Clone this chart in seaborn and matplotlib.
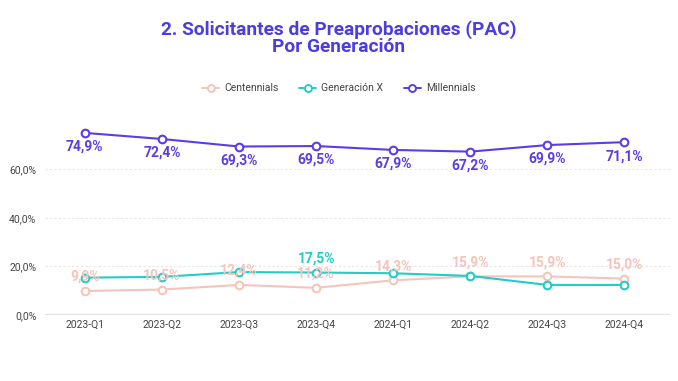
import pandas as pd
import seaborn as sns
import matplotlib.pyplot as plt
from matplotlib.lines import Line2D

# data
quarters = ['2023-Q1', '2023-Q2', '2023-Q3', '2023-Q4', '2024-Q1', '2024-Q2', '2024-Q3', '2024-Q4']
centennials = [9.9, 10.5, 12.4, 11.2, 14.3, 15.9, 15.9, 15.0]
generacion_x = [15.4, 15.7, 17.7, 17.5, 17.2, 16.1, 12.4, 12.4]
millennials = [74.9, 72.4, 69.3, 69.5, 67.9, 67.2, 69.9, 71.1]

series = ['Centennials', 'Generación X', 'Millennials']
colors = {'Centennials': '#f5c4ba', 'Generación X': '#22cdc6', 'Millennials': '#5a3de6'}

df = pd.DataFrame({'Trimestre': quarters, 'Centennials': centennials,
                   'Generación X': generacion_x, 'Millennials': millennials})
df_long = df.melt(id_vars='Trimestre', var_name='Serie', value_name='Valor')

sns.set_style('white')
plt.rcParams['font.family'] = ['Roboto', 'DejaVu Sans']

fig = plt.figure(figsize=(6.78, 3.81), dpi=100)
ax = fig.add_axes([0.066, 0.173, 0.922, 0.565])

for s in series:
    sub = df_long[df_long['Serie'] == s]
    sns.lineplot(data=sub, x='Trimestre', y='Valor', ax=ax, color=colors[s],
                 linewidth=1.5, marker='o', markersize=5.5, markerfacecolor='white',
                 markeredgecolor=colors[s], markeredgewidth=1.5, sort=False, legend=False)

# value labels
def fmt(v):
    return f'{v:.1f}%'.replace('.', ',')

for i, v in enumerate(centennials):
    ax.annotate(fmt(v), (i, v), xytext=(0, 5), textcoords='offset points',
                ha='center', va='bottom', fontsize=10, fontweight='bold', color=colors['Centennials'])
ax.annotate(fmt(generacion_x[3]), (3, generacion_x[3]), xytext=(0, 5),
            textcoords='offset points', ha='center', va='bottom', fontsize=10,
            fontweight='bold', color=colors['Generación X'])
for i, v in enumerate(millennials):
    ax.annotate(fmt(v), (i, v), xytext=(0, -5), textcoords='offset points',
                ha='center', va='top', fontsize=10, fontweight='bold', color=colors['Millennials'])

ax.set_ylim(0, 88.5)
ax.set_xlim(-0.52, 7.59)
ax.set_yticks([0, 20, 40, 60])
ax.set_yticklabels(['0,0%', '20,0%', '40,0%', '60,0%'])
ax.tick_params(axis='both', labelsize=7.5, colors='#444444', length=0)
ax.tick_params(axis='y', pad=6)
ax.set_xlabel('')
ax.set_ylabel('')
for y in [20, 40, 60]:
    ax.axhline(y, color='#e6e6e6', linewidth=0.8, linestyle=(0, (2, 2)), zorder=0)
ax.axhline(0, color='#e0e0e8', linewidth=1.5, zorder=0)
for sp in ax.spines.values():
    sp.set_visible(False)

handles = [Line2D([0], [0], color=colors[s], linewidth=1.4, marker='o', markersize=5,
                  markerfacecolor='white', markeredgecolor=colors[s], markeredgewidth=1.4)
           for s in series]
fig.legend(handles, series, loc='center', bbox_to_anchor=(0.5, 0.768), ncol=3, frameon=False,
           fontsize=7.5, handlelength=1.6, columnspacing=2.0, handletextpad=0.5,
           labelcolor='#444444')

fig.text(0.5, 0.9, '2. Solicitantes de Preaprobaciones (PAC)\nPor Generación', ha='center',
         va='center', fontsize=13.8, fontweight='bold', color='#4b3de3', linespacing=0.92)

fig.savefig('out.png', dpi=100, facecolor='white')
